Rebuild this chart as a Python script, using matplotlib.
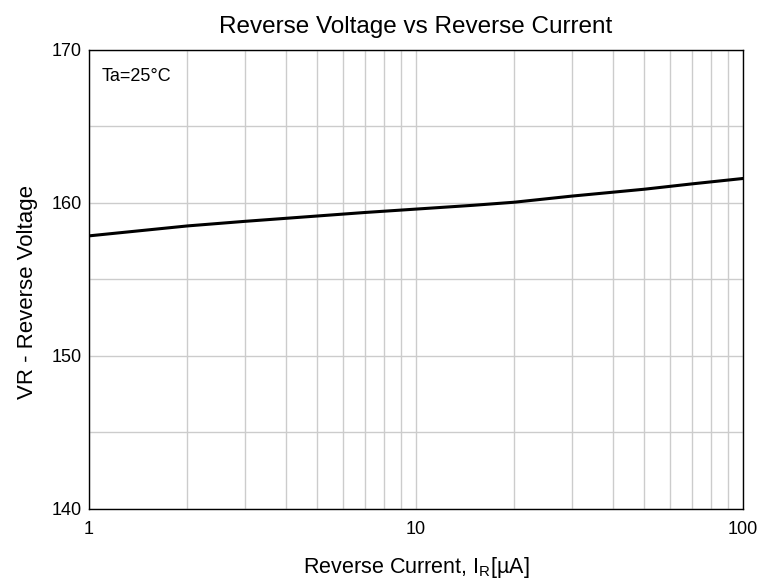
import numpy as np
import matplotlib.pyplot as plt
from matplotlib.ticker import FixedLocator, NullFormatter

plt.rcParams['font.family'] = ['Liberation Sans', 'DejaVu Sans']

# reverse current [uA] and reverse voltage [V]
ir = [1, 2, 3, 5, 7, 10, 15, 20, 30, 50, 70, 100]
vr = [157.85, 158.5, 158.8, 159.15, 159.38, 159.6, 159.85, 160.05, 160.45, 160.9, 161.25, 161.6]

fig = plt.figure(figsize=(7.63, 5.88), dpi=100)
ax = fig.add_axes([0.1166, 0.1344, 0.857, 0.7806])

ax.plot(ir, vr, color='black', lw=2.2)
ax.set_xscale('log')
ax.set_xlim(1, 100)
ax.set_ylim(140, 170)

ax.xaxis.set_major_locator(FixedLocator([1, 10, 100]))
ax.set_xticklabels(['1', '10', '100'])
ax.xaxis.set_minor_locator(FixedLocator([2, 3, 4, 5, 6, 7, 8, 9, 20, 30, 40, 50, 60, 70, 80, 90]))
ax.xaxis.set_minor_formatter(NullFormatter())
ax.yaxis.set_major_locator(FixedLocator([140, 150, 160, 170]))
ax.yaxis.set_minor_locator(FixedLocator([145, 155, 165]))

ax.grid(True, which='both', color='#cccccc', lw=1)
ax.set_axisbelow(True)
ax.tick_params(which='both', length=0, labelsize=13)
ax.tick_params(axis='x', pad=9)
ax.tick_params(axis='y', pad=5)
for s in ax.spines.values():
    s.set_color('black')
    s.set_linewidth(1)

ax.text(0.02, 0.96, 'Ta=25°C', transform=ax.transAxes, fontsize=13, va='top')
ax.set_title('Reverse Voltage vs Reverse Current', fontsize=17.5, pad=12)
ax.set_xlabel('Reverse Current, I$_\\mathregular{R}$[µA]', fontsize=15.5, labelpad=12)
ax.set_ylabel('VR - Reverse Voltage', fontsize=16)
ax.yaxis.set_label_coords(-0.078, 0.473)

fig.savefig('out.png', dpi=100)
